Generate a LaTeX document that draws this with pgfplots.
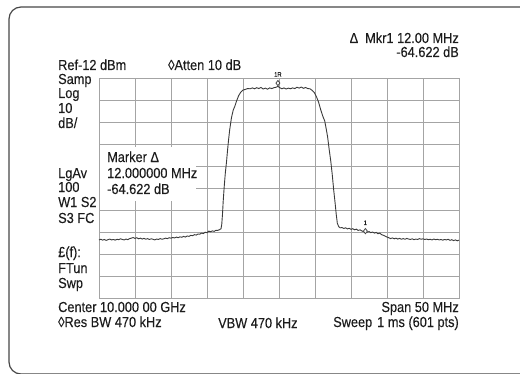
\documentclass[border=0pt]{standalone}
\usepackage{pgfplots}
\pgfplotsset{compat=1.18}
\usepackage{fontspec}
\setmainfont{Liberation Sans}[FakeStretch=0.88,FakeBold=0.25]
\definecolor{txt}{HTML}{1C1C1C}
\definecolor{gridc}{HTML}{A4A4A4}
\definecolor{trace}{HTML}{3A3A3A}
\definecolor{frame}{HTML}{474747}
\pgfplotstableread{
f p
-25 -85.6
-24.75 -85.3
-24.5 -85.7
-24.25 -85.4
-24 -85.8
-23.75 -85.5
-23.5 -85.2
-23.25 -85.6
-23 -85.4
-22.75 -85.7
-22.5 -85.3
-22.25 -85.5
-22 -85.1
-21.75 -85.4
-21.5 -85.6
-21.25 -85.2
-21 -85.5
-20.75 -85.0
-20.5 -84.8
-20.25 -84.5
-20 -84.9
-19.75 -84.6
-19.5 -85.1
-19.25 -84.8
-19 -85.2
-18.75 -84.9
-18.5 -85.3
-18.25 -85.0
-18 -85.4
-17.75 -85.1
-17.5 -85.3
-17.25 -85.6
-17 -85.2
-16.75 -85.4
-16.5 -85.0
-16.25 -85.3
-16 -85.1
-15.75 -84.8
-15.5 -85.0
-15.25 -84.6
-15 -84.8
-14.75 -84.5
-14.5 -84.7
-14.25 -84.3
-14 -84.6
-13.75 -84.2
-13.5 -84.4
-13.25 -84.0
-13 -84.3
-12.75 -83.8
-12.5 -84.0
-12.25 -83.5
-12 -83.7
-11.75 -83.2
-11.5 -83.4
-11.25 -82.9
-11 -83.0
-10.75 -82.5
-10.5 -82.7
-10.25 -82.1
-10 -82.3
-9.75 -81.6
-9.5 -81.9
-9.25 -81.5
-9 -81.7
-8.75 -81.2
-8.5 -81.3
-8.25 -80.9
-8.05 -80.5
-7.95 -78.5
-7.85 -74
-7.75 -68
-7.6 -61
-7.45 -55
-7.3 -50.5
-7.15 -45
-7.0 -40
-6.85 -35.6
-6.6 -30
-6.35 -26.5
-6.15 -25
-5.9 -22.5
-5.6 -20
-5.3 -18.4
-5.0 -17.5
-4.7 -17.2
-4.35 -16.8
-4.0 -16.9
-3.7 -16.5
-3.4 -16.9
-3.1 -16.4
-2.8 -16.8
-2.5 -16.3
-2.2 -17.0
-1.9 -16.6
-1.6 -17.1
-1.3 -16.5
-1.0 -16.8
-0.7 -16.4
-0.4 -16.2
-0.15 -15.8
0.1 -16.4
0.4 -16.9
0.7 -16.5
1.0 -17.0
1.3 -16.6
1.6 -16.9
1.9 -16.5
2.2 -16.8
2.5 -16.2
2.8 -16.6
3.1 -16.1
3.4 -16.7
3.7 -16.3
4.0 -16.8
4.3 -16.9
4.6 -17.6
4.9 -18.6
5.2 -20.5
5.5 -23
5.8 -26.5
6.1 -29.5
6.35 -31.5
6.55 -35
6.75 -38.7
6.95 -44
7.2 -50
7.4 -56
7.6 -63
7.8 -69
7.95 -74
8.1 -78
8.3 -79.6
8.5 -80.1
8.75 -80.0
9.0 -80.4
9.25 -80.1
9.5 -80.6
9.75 -80.3
10 -80.8
10.25 -80.5
10.5 -81.0
10.75 -80.7
11 -81.3
11.25 -81.0
11.5 -81.5
11.75 -81.9
12 -81.8
12.25 -82.1
12.5 -81.8
12.75 -82.3
13 -82.0
13.25 -82.5
13.5 -82.2
13.75 -82.8
14 -82.5
14.25 -83.2
14.5 -83.5
14.75 -83.9
15 -84.3
15.25 -84.6
15.5 -85.0
15.75 -84.7
16 -85.1
16.25 -84.8
16.5 -85.2
16.75 -84.9
17 -85.3
17.25 -85.0
17.5 -85.3
17.75 -84.9
18 -85.2
18.25 -85.4
18.5 -85.1
18.75 -85.5
19 -85.2
19.25 -85.4
19.5 -85.0
19.75 -85.3
20 -85.1
20.25 -85.4
20.5 -85.2
20.75 -85.5
21 -85.3
21.25 -85.6
21.5 -85.2
21.75 -85.5
22 -85.3
22.25 -85.6
22.5 -85.4
22.75 -85.7
23 -85.4
23.25 -85.6
23.5 -85.3
23.75 -85.8
24 -85.5
24.25 -85.9
24.5 -85.6
24.75 -86.0
25 -85.7
}\trace
\begin{document}
\begin{tikzpicture}[x=1pt,y=1pt,font=\fontsize{14.5}{16}\selectfont,text=txt]
\path[use as bounding box] (0,0) rectangle (520,373);
\begin{scope}
\clip (0,0) rectangle (520,373);
\draw[frame,line width=1.2pt,rounded corners=12pt] (9,366) rectangle (560,-1);
\end{scope}
\begin{axis}[
  at={(99pt,75pt)}, anchor=south west,
  width=360pt, height=220pt, scale only axis,
  xmin=-25, xmax=25, ymin=-112, ymax=-12,
  xtick={-25,-20,...,25}, ytick={-112,-102,...,-12},
  xticklabels={}, yticklabels={},
  major tick length=0pt,
  grid=major,
  grid style={gridc, line width=0.8pt},
  axis line style={gridc, line width=0.9pt},
  clip=false,
]
\addplot[trace, line width=0.9pt, mark=none] table[x=f,y=p] {\trace};
\addplot[frame, line width=0.8pt, mark=diamond*, mark size=2.6pt, mark options={fill=white}, only marks] coordinates {(-0.15,-14.3) (12,-81.6)};
\node[font=\fontsize{6.5}{6.5}\selectfont] at (axis cs:-0.15,-10.4) {1R};
\node[font=\fontsize{6.5}{6.5}\selectfont] at (axis cs:12,-77.8) {1};
\end{axis}
\fill[white] (100,172) rectangle (196,226);
% marker box text
\node[anchor=base west,inner sep=0] at (107,211) {Marker Δ};
\node[anchor=base west,inner sep=0] at (107,195) {12.000000 MHz};
\node[anchor=base west,inner sep=0] at (107,179) {-64.622 dB};
% top texts
\node[anchor=base east,inner sep=0] at (459,330) {Δ\hspace{7pt}Mkr1 12.00 MHz};
\node[anchor=base east,inner sep=0] at (459,316) {-64.622 dB};
\node[anchor=base west,inner sep=0] at (58,303) {Ref-12 dBm};
\node[anchor=base west,inner sep=0] at (168,303) {◊Atten 10 dB};
% left column
\node[anchor=base west,inner sep=0] at (58,289) {Samp};
\node[anchor=base west,inner sep=0] at (58,275) {Log};
\node[anchor=base west,inner sep=0] at (58,260) {10};
\node[anchor=base west,inner sep=0] at (58,245) {dB/};
\node[anchor=base west,inner sep=0] at (58,195) {LgAv};
\node[anchor=base west,inner sep=0] at (58,181) {100};
\node[anchor=base west,inner sep=0] at (58,166) {W1 S2};
\node[anchor=base west,inner sep=0] at (58,150) {S3 FC};
\node[anchor=base west,inner sep=0] at (58,116) {£(f):};
\node[anchor=base west,inner sep=0] at (58,100) {FTun};
\node[anchor=base west,inner sep=0] at (58,85) {Swp};
% bottom texts
\node[anchor=base west,inner sep=0] at (58,61) {Center 10.000 00 GHz};
\node[anchor=base east,inner sep=0] at (459,61) {Span 50 MHz};
\node[anchor=base west,inner sep=0] at (58,46) {◊Res BW 470 kHz};
\node[anchor=base west,inner sep=0] at (218,45) {VBW 470 kHz};
\node[anchor=base east,inner sep=0] at (459,46) {Sweep\hspace{5pt}1 ms (601 pts)};
\end{tikzpicture}
\end{document}
